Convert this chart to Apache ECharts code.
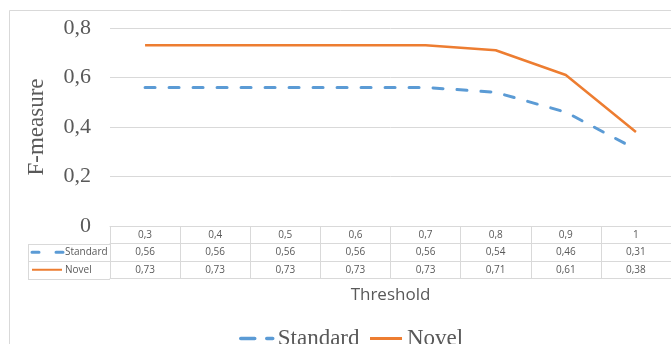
<!DOCTYPE html>
<html>
<head>
<meta charset="utf-8">
<script src="https://cdn.jsdelivr.net/npm/echarts@6/dist/echarts.min.js"></script>
<style>html,body{margin:0;padding:0;background:#fff;}#c{width:671px;height:344px;}</style>
</head>
<body>
<div id="c"></div>
<script>
var categories = [0.3, 0.4, 0.5, 0.6, 0.7, 0.8, 0.9, 1];
var standardVals = [0.56, 0.56, 0.56, 0.56, 0.56, 0.54, 0.46, 0.31];
var novelVals = [0.73, 0.73, 0.73, 0.73, 0.73, 0.71, 0.61, 0.38];
var yTicks = [0, 0.2, 0.4, 0.6, 0.8];
var seriesNames = ['Standard', 'Novel'];

var BLUE = '#5B9BD5', ORANGE = '#ED7D31', GRIDC = '#d9d9d9', TXT = '#595959';
var SANS = '"Open Sans", "DejaVu Sans", sans-serif';
var SERIF = '"Liberation Serif", "DejaVu Serif", serif';
var W = 671, H = 344;
var GL = 110, GT = 28, G0 = 226, GR = -8, ROW = 17.5;

function comma(v) { return String(v).replace('.', ','); }

function tableAxis(data, offset, showLabel, extra) {
  var ax = {
    type: 'category', gridIndex: 0, position: 'bottom', offset: offset,
    data: data.map(comma), boundaryGap: true,
    axisLine: { show: true, lineStyle: { color: GRIDC, width: 1 } },
    axisTick: { show: showLabel, alignWithLabel: false, interval: 0, length: ROW, inside: false, lineStyle: { color: GRIDC, width: 1 } },
    axisLabel: { show: showLabel, interval: 0, margin: ROW / 2, verticalAlign: 'middle', fontFamily: SANS, fontSize: 10, color: TXT },
    splitLine: { show: false }
  };
  if (extra) for (var k in extra) ax[k] = extra[k];
  return ax;
}

var chart = echarts.init(document.getElementById('c'), null, { renderer: 'canvas' });

var option = {
  backgroundColor: '#ffffff',
  animation: false,
  grid: { left: GL, top: GT, right: GR, bottom: H - G0, containLabel: false },
  legend: {
    left: 234, top: 322, itemWidth: 32, itemHeight: 14, itemGap: 9,
    itemStyle: { opacity: 0 },
    textStyle: { fontFamily: SERIF, fontSize: 23, color: TXT },
    data: [
      { name: seriesNames[0], lineStyle: { type: [14, 12], width: 3.5, color: BLUE } },
      { name: seriesNames[1], lineStyle: { width: 3, color: ORANGE } }
    ]
  },
  xAxis: [
    tableAxis(categories, 0, true),
    tableAxis(standardVals, ROW, true),
    tableAxis(novelVals, ROW * 2, true),
    tableAxis(categories, ROW * 3, false, {
      name: 'Threshold', nameLocation: 'middle', nameGap: 8,
      nameTextStyle: { fontFamily: SANS, fontSize: 17, color: TXT, verticalAlign: 'top' }
    })
  ],
  yAxis: {
    type: 'value', min: yTicks[0], max: yTicks[yTicks.length - 1], interval: yTicks[1] - yTicks[0],
    name: 'F-measure', nameLocation: 'middle', nameGap: 62, nameRotate: 90,
    nameTextStyle: { fontFamily: SERIF, fontSize: 23, color: TXT },
    axisLine: { show: false }, axisTick: { show: false },
    axisLabel: { margin: 19, fontFamily: SERIF, fontSize: 22, color: TXT, formatter: function (v) { return comma(+v.toFixed(1)); } },
    splitLine: { show: true, lineStyle: { color: GRIDC, width: 1 } }
  },
  series: [
    {
      name: seriesNames[0], type: 'line', xAxisIndex: 0, data: standardVals,
      symbol: 'none', showSymbol: false, color: BLUE,
      lineStyle: { color: BLUE, width: 3, type: [10, 14], cap: 'round' }
    },
    {
      name: seriesNames[1], type: 'line', xAxisIndex: 0, data: novelVals,
      symbol: 'none', showSymbol: false, color: ORANGE,
      lineStyle: { color: ORANGE, width: 2.5 }
    }
  ]
};
chart.setOption(option);

// table row-label column and chart frame, positioned from the grid geometry
var rowY1 = G0 + ROW, rowY2 = G0 + ROW * 2, rowY3 = G0 + ROW * 3;
var LX = 28;
var g = [];
function line(x1, y1, x2, y2, style) {
  g.push({ type: 'line', shape: { x1: x1, y1: y1, x2: x2, y2: y2 }, style: style, silent: true });
}
var border = { stroke: GRIDC, lineWidth: 1 };
line(9.5, 10.5, W, 10.5, border);
line(9.5, 10.5, 9.5, H, border);
[rowY1, rowY2, rowY3].forEach(function (y) { line(LX, Math.round(y) + 0.5, GL, Math.round(y) + 0.5, border); });
line(LX + 0.5, Math.round(rowY1), LX + 0.5, Math.round(rowY3) + 1, border);
line(32, (rowY1 + rowY2) / 2, 63, (rowY1 + rowY2) / 2, { stroke: BLUE, lineWidth: 3, lineDash: [7, 17], lineCap: 'round' });
line(32, (rowY2 + rowY3) / 2, 62, (rowY2 + rowY3) / 2, { stroke: ORANGE, lineWidth: 2 });
g.push({ type: 'text', x: 65, y: (rowY1 + rowY2) / 2, silent: true,
  style: { text: seriesNames[0], fontFamily: SANS, fontSize: 10, fill: TXT, verticalAlign: 'middle', align: 'left' } });
g.push({ type: 'text', x: 65, y: (rowY2 + rowY3) / 2, silent: true,
  style: { text: seriesNames[1], fontFamily: SANS, fontSize: 10, fill: TXT, verticalAlign: 'middle', align: 'left' } });
chart.setOption({ graphic: g });
</script>
</body>
</html>
